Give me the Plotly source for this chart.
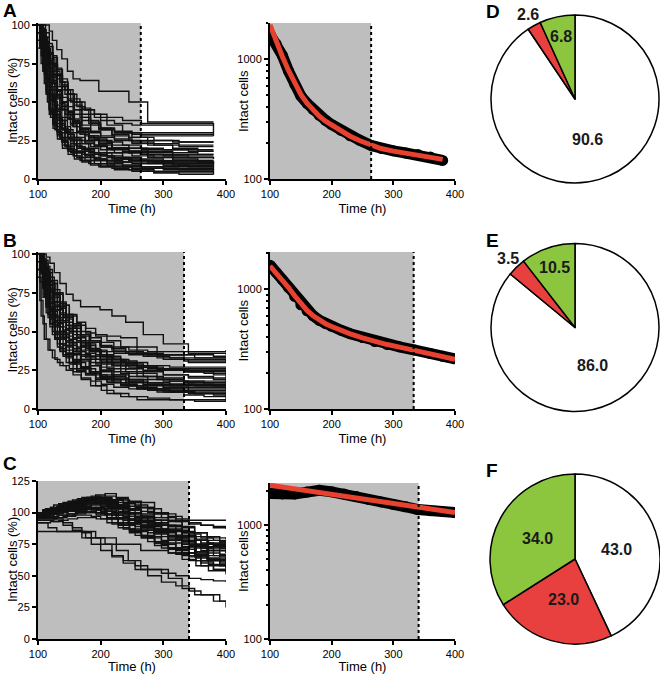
import math
import plotly.graph_objects as go

W, H = 660, 674

# ---------------- DATA ----------------
# Left panels: individual traces (% intact cells), step lines; three time grids per panel (lines use them in turn)
times_A = [
    [100, 105, 110, 115, 120, 127, 135, 143, 152, 162, 175, 190, 210, 235, 265, 300, 340, 380],
    [100, 103, 108, 113, 118, 124, 131, 139, 148, 158, 170, 184, 200, 222, 250, 285, 325, 380],
    [100, 107, 112, 118, 123, 130, 138, 147, 156, 167, 181, 197, 218, 245, 275, 315, 355, 380],
]
lines_A = [
    [100, 95, 85, 70, 58, 48, 40, 34, 30, 27, 24, 22, 20, 18, 16, 15, 14, 14],
    [100, 90, 75, 60, 45, 35, 28, 22, 18, 15, 12, 10, 9, 8, 7, 7, 6, 6],
    [100, 100, 95, 88, 80, 72, 65, 58, 52, 45, 38, 33, 28, 25, 22, 20, 18, 18],
    [100, 92, 80, 65, 52, 42, 35, 30, 27, 25, 23, 22, 20, 20, 19, 19, 18, 18],
    [95, 85, 70, 55, 42, 33, 26, 20, 16, 13, 11, 9, 8, 6, 5, 4, 4, 4],
    [100, 100, 100, 96, 90, 84, 78, 70, 65, 64, 64, 57, 57, 50, 37, 37, 37, 37],
    [100, 97, 90, 82, 75, 68, 60, 55, 50, 47, 45, 42, 40, 38, 36, 36, 36, 35],
    [100, 88, 72, 58, 46, 37, 30, 25, 21, 18, 16, 14, 12, 11, 10, 10, 9, 9],
    [100, 93, 84, 74, 66, 58, 50, 43, 37, 32, 28, 25, 22, 20, 18, 17, 16, 16],
    [90, 80, 68, 55, 44, 36, 30, 26, 23, 21, 19, 17, 15, 14, 13, 12, 12, 12],
    [100, 96, 88, 79, 70, 62, 55, 48, 42, 37, 33, 30, 27, 25, 23, 22, 21, 21],
    [100, 85, 68, 52, 40, 31, 24, 19, 15, 12, 10, 8, 7, 6, 5, 5, 5, 5],
    [100, 98, 92, 85, 78, 70, 63, 58, 55, 50, 45, 40, 35, 30, 28, 28, 28, 28],
    [100, 90, 78, 65, 54, 45, 38, 33, 29, 26, 23, 21, 19, 17, 15, 14, 14, 13],
    [100, 94, 86, 77, 67, 58, 50, 44, 38, 33, 28, 24, 20, 17, 14, 12, 11, 11],
    [85, 75, 62, 50, 40, 32, 26, 22, 19, 17, 15, 13, 12, 11, 10, 9, 9, 9],
    [100, 99, 95, 89, 82, 75, 68, 60, 52, 45, 40, 36, 33, 31, 30, 30, 30, 30],
    [100, 91, 80, 70, 60, 52, 45, 39, 34, 30, 26, 23, 20, 18, 16, 15, 15, 15],
    [100, 87, 70, 55, 43, 34, 27, 21, 17, 14, 12, 10, 9, 8, 7, 6, 6, 6],
    [100, 95, 88, 80, 72, 64, 57, 50, 44, 39, 35, 31, 28, 26, 24, 23, 22, 22],
    [100, 92, 82, 72, 62, 54, 47, 41, 36, 31, 27, 23, 20, 18, 17, 16, 16, 16],
    [95, 88, 78, 66, 55, 46, 38, 31, 25, 20, 16, 13, 11, 9, 8, 7, 7, 7],
    [100, 97, 91, 84, 76, 68, 60, 53, 47, 42, 38, 35, 32, 30, 29, 29, 29, 29],
    [100, 93, 83, 72, 62, 53, 45, 39, 34, 29, 25, 22, 19, 17, 15, 13, 12, 12],
    [100, 89, 76, 63, 51, 41, 33, 27, 22, 18, 15, 12, 10, 9, 8, 8, 8, 8],
    [100, 100, 97, 92, 86, 79, 71, 63, 55, 48, 42, 37, 33, 30, 27, 25, 24, 24],
    [90, 82, 72, 62, 53, 45, 38, 32, 27, 23, 20, 17, 14, 12, 10, 9, 9, 9],
    [100, 94, 85, 74, 63, 54, 46, 40, 35, 31, 28, 26, 24, 22, 20, 19, 19, 19],
    [100, 86, 70, 56, 45, 36, 29, 24, 20, 17, 14, 12, 10, 8, 6, 4, 3, 3],
    [100, 96, 89, 81, 73, 65, 58, 51, 45, 40, 36, 32, 29, 27, 25, 24, 24, 24],
    [100, 91, 79, 66, 54, 44, 36, 30, 25, 21, 18, 16, 14, 13, 12, 11, 11, 10],
    [100, 98, 94, 88, 81, 74, 67, 61, 55, 50, 46, 42, 38, 36, 35, 35, 35, 28],
    [100, 88, 74, 60, 48, 39, 32, 27, 23, 20, 17, 15, 13, 12, 11, 10, 10, 10],
    [100, 95, 87, 77, 67, 58, 49, 42, 36, 30, 25, 21, 17, 14, 11, 9, 8, 8],
    [100, 90, 80, 70, 60, 50, 40, 32, 26, 22, 19, 17, 15, 13, 12, 11, 11, 3],
]

times_B = [
    [100, 105, 110, 116, 123, 131, 140, 150, 162, 176, 192, 210, 232, 258, 290, 333, 365, 400],
    [100, 103, 108, 113, 119, 127, 135, 145, 156, 169, 184, 201, 221, 245, 275, 310, 350, 400],
    [100, 107, 113, 119, 126, 135, 145, 156, 168, 182, 199, 218, 240, 268, 300, 340, 380, 400],
]
lines_B = [
    [100, 95, 88, 80, 72, 64, 57, 50, 44, 39, 35, 32, 29, 27, 25, 24, 23, 23],
    [100, 90, 78, 66, 55, 46, 39, 34, 30, 27, 24, 22, 20, 18, 17, 16, 15, 15],
    [100, 100, 98, 94, 88, 81, 74, 70, 66, 66, 64, 60, 56, 48, 42, 36, 36, 35],
    [100, 92, 82, 71, 61, 53, 46, 41, 37, 34, 32, 30, 28, 27, 26, 25, 25, 25],
    [90, 70, 55, 45, 38, 32, 28, 25, 22, 20, 18, 16, 14, 13, 12, 11, 10, 10],
    [100, 97, 92, 85, 77, 69, 61, 54, 48, 44, 41, 39, 37, 36, 35, 35, 34, 34],
    [100, 88, 74, 61, 50, 42, 35, 30, 26, 23, 20, 18, 16, 14, 13, 12, 12, 12],
    [100, 94, 86, 77, 68, 60, 53, 47, 43, 40, 38, 37, 36, 36, 35, 35, 33, 33],
    [100, 91, 80, 69, 59, 50, 43, 37, 32, 28, 24, 21, 18, 16, 14, 13, 13, 13],
    [85, 60, 45, 38, 33, 30, 28, 26, 24, 22, 15, 10, 8, 6, 6, 6, 6, 6],
    [100, 96, 89, 81, 72, 64, 57, 51, 46, 42, 38, 35, 32, 30, 28, 27, 27, 27],
    [100, 89, 76, 64, 54, 46, 40, 35, 31, 28, 25, 22, 19, 17, 15, 14, 14, 14],
    [100, 100, 96, 90, 83, 75, 67, 60, 54, 49, 47, 47, 46, 40, 35, 32, 32, 31],
    [100, 93, 84, 74, 64, 56, 49, 43, 38, 34, 30, 27, 24, 21, 19, 18, 18, 17],
    [95, 85, 72, 60, 50, 42, 36, 31, 27, 24, 21, 19, 17, 15, 13, 12, 12, 12],
    [100, 97, 91, 83, 75, 67, 60, 53, 47, 42, 38, 34, 31, 28, 26, 24, 24, 24],
    [100, 90, 79, 68, 58, 49, 42, 36, 31, 27, 23, 20, 17, 15, 13, 11, 10, 10],
    [100, 95, 87, 78, 69, 61, 54, 48, 43, 39, 35, 32, 29, 27, 25, 24, 22, 22],
    [100, 87, 72, 59, 48, 40, 34, 29, 25, 22, 19, 17, 15, 13, 12, 11, 11, 5],
    [100, 94, 85, 75, 65, 57, 50, 44, 39, 35, 32, 30, 28, 27, 26, 26, 26, 26],
    [100, 92, 83, 73, 64, 56, 49, 43, 38, 34, 31, 28, 26, 24, 22, 21, 20, 20],
    [100, 98, 94, 88, 81, 74, 67, 61, 56, 52, 48, 44, 40, 36, 33, 31, 31, 30],
    [100, 91, 81, 71, 62, 54, 47, 41, 36, 32, 28, 25, 22, 19, 17, 16, 16, 16],
    [100, 88, 75, 63, 53, 45, 38, 32, 27, 23, 20, 17, 15, 13, 11, 10, 9, 9],
    [100, 96, 90, 82, 74, 66, 59, 52, 46, 41, 37, 33, 30, 28, 26, 25, 25, 18],
    [90, 82, 72, 62, 53, 45, 38, 33, 29, 26, 23, 21, 19, 17, 16, 15, 15, 15],
    [100, 93, 85, 76, 67, 59, 52, 46, 41, 37, 34, 31, 28, 25, 22, 20, 19, 19],
    [100, 89, 77, 66, 56, 48, 41, 35, 30, 26, 22, 19, 16, 13, 11, 9, 8, 8],
    [100, 97, 93, 87, 80, 73, 66, 59, 53, 48, 44, 40, 37, 35, 34, 33, 33, 33],
    [100, 94, 86, 77, 69, 62, 56, 50, 44, 38, 33, 28, 24, 21, 18, 16, 15, 15],
    [100, 91, 82, 72, 63, 55, 48, 42, 37, 33, 29, 26, 23, 21, 19, 17, 16, 16],
    [100, 90, 78, 66, 55, 45, 37, 30, 24, 19, 15, 12, 10, 8, 7, 6, 5, 5],
    [100, 95, 88, 80, 72, 65, 58, 52, 47, 43, 40, 38, 36, 34, 32, 30, 30, 30],
    [100, 93, 85, 75, 66, 58, 51, 45, 40, 36, 32, 29, 26, 23, 20, 18, 17, 12],
    [100, 99, 95, 89, 82, 75, 68, 61, 55, 50, 46, 43, 40, 38, 37, 37, 37, 38],
]

times_C = [
    [100, 112, 125, 140, 155, 170, 185, 200, 218, 236, 255, 275, 297, 320, 341, 360, 380, 400],
    [100, 108, 120, 133, 148, 163, 178, 193, 210, 228, 246, 265, 286, 308, 330, 352, 372, 400],
    [100, 116, 130, 146, 160, 176, 192, 207, 225, 244, 264, 285, 308, 330, 350, 370, 390, 400],
]
lines_C = [
    [100, 101, 103, 106, 108, 110, 112, 110, 106, 102, 97, 92, 86, 80, 75, 72, 70, 68],
    [98, 99, 100, 102, 104, 105, 103, 100, 96, 92, 87, 82, 77, 72, 68, 65, 63, 62],
    [100, 102, 105, 107, 109, 111, 113, 115, 112, 108, 104, 99, 93, 88, 84, 81, 80, 79],
    [96, 97, 99, 101, 102, 103, 102, 99, 95, 90, 85, 80, 75, 70, 65, 61, 58, 56],
    [100, 100, 101, 103, 106, 108, 110, 109, 107, 104, 100, 96, 91, 86, 81, 78, 76, 75],
    [95, 95, 96, 98, 100, 101, 100, 98, 95, 91, 87, 83, 78, 73, 68, 64, 61, 60],
    [100, 101, 102, 104, 107, 109, 111, 111, 110, 108, 106, 103, 99, 95, 92, 90, 88, 87],
    [92, 92, 93, 94, 95, 96, 96, 95, 92, 88, 84, 80, 76, 72, 68, 64, 62, 61],
    [100, 99, 98, 99, 101, 103, 104, 102, 99, 95, 90, 85, 79, 73, 67, 62, 58, 55],
    [97, 98, 100, 103, 105, 107, 108, 107, 104, 100, 96, 91, 86, 82, 78, 75, 73, 72],
    [100, 102, 104, 106, 108, 110, 112, 111, 109, 106, 102, 97, 92, 87, 82, 78, 75, 74],
    [85, 85, 85, 85, 85, 80, 80, 75, 75, 75, 70, 70, 68, 68, 65, 63, 60, 58],
    [94, 94, 93, 90, 86, 80, 75, 70, 66, 62, 58, 55, 52, 50, 48, 47, 46, 45],
    [100, 101, 103, 105, 107, 109, 110, 109, 106, 103, 99, 95, 90, 85, 80, 75, 72, 70],
    [92, 88, 85, 85, 85, 85, 80, 80, 70, 62, 55, 55, 48, 40, 35, 35, 30, 30],
    [98, 97, 95, 92, 88, 84, 80, 75, 65, 60, 55, 50, 45, 42, 38, 35, 30, 25],
    [100, 102, 103, 104, 106, 108, 109, 108, 105, 101, 97, 92, 87, 82, 77, 73, 70, 68],
    [99, 100, 100, 101, 102, 103, 103, 101, 98, 94, 90, 86, 82, 78, 74, 70, 67, 66],
    [100, 103, 106, 108, 110, 112, 113, 112, 110, 107, 104, 100, 96, 93, 91, 90, 89, 89],
    [96, 96, 97, 98, 99, 100, 100, 98, 95, 91, 86, 81, 76, 71, 66, 62, 59, 57],
    [100, 101, 102, 104, 106, 108, 109, 108, 106, 103, 99, 94, 89, 84, 79, 75, 72, 71],
    [100, 100, 100, 102, 104, 105, 106, 105, 103, 100, 97, 94, 90, 86, 83, 80, 78, 77],
    [97, 98, 99, 101, 103, 104, 104, 102, 99, 95, 91, 86, 81, 76, 71, 66, 62, 60],
    [100, 101, 103, 105, 108, 110, 111, 110, 108, 105, 101, 96, 90, 84, 78, 73, 70, 68],
    [100, 100, 101, 101, 102, 103, 103, 101, 98, 94, 89, 84, 78, 72, 66, 60, 55, 53],
    [98, 99, 101, 103, 105, 107, 108, 107, 104, 100, 95, 90, 84, 78, 73, 69, 66, 65],
    [100, 102, 104, 106, 109, 111, 114, 113, 111, 108, 104, 99, 94, 89, 84, 80, 77, 76],
    [96, 96, 96, 97, 98, 98, 97, 95, 91, 87, 82, 77, 72, 67, 62, 58, 55, 53],
    [100, 101, 102, 104, 106, 108, 109, 110, 110, 110, 109, 108, 100, 97, 94, 94, 94, 94],
    [95, 95, 96, 97, 99, 100, 100, 99, 96, 92, 88, 84, 80, 76, 72, 68, 65, 63],
    [100, 101, 103, 104, 105, 106, 107, 106, 103, 99, 94, 89, 84, 79, 74, 70, 66, 64],
    [100, 99, 99, 100, 101, 102, 101, 99, 95, 90, 85, 80, 74, 68, 63, 58, 54, 51],
    [100, 101, 102, 104, 106, 107, 108, 107, 105, 102, 98, 94, 89, 85, 81, 78, 76, 75],
    [98, 99, 100, 102, 103, 104, 104, 103, 100, 97, 93, 89, 85, 81, 78, 76, 74, 73],
    [100, 102, 104, 107, 109, 111, 112, 111, 108, 104, 99, 93, 87, 81, 75, 69, 64, 60],
]

# Middle panels: total intact cells (black data) and fitted curve (red)
mid_times_A = [100, 110, 120, 130, 140, 150, 160, 170, 180, 190, 200, 215, 230, 245, 265, 280, 300, 320, 340, 360, 380]
mid_cells_A = [1620, 1350, 1080, 800, 620, 495, 430, 380, 340, 310, 285, 255, 230, 212, 190, 180, 172, 165, 160, 153, 143]
fit_cells_A = [1950, 1400, 1060, 810, 640, 510, 430, 375, 335, 305, 282, 252, 228, 210, 190, 180, 171, 164, 158, 152, 146]

mid_times_B = [100, 110, 120, 130, 140, 150, 160, 170, 180, 190, 200, 215, 230, 250, 270, 290, 310, 335, 360, 380, 400]
mid_cells_B = [1585, 1380, 1200, 1030, 870, 740, 660, 600, 550, 515, 490, 455, 425, 395, 365, 345, 330, 310, 290, 275, 262]
fit_cells_B = [1560, 1370, 1190, 1030, 880, 750, 665, 600, 550, 515, 488, 452, 423, 392, 365, 345, 328, 308, 289, 274, 260]

mid_times_C = [100, 120, 140, 160, 180, 200, 220, 240, 260, 280, 300, 320, 340, 360, 380, 400]
mid_cells_C = [1900, 1880, 1880, 1950, 2020, 1960, 1880, 1780, 1680, 1600, 1520, 1450, 1370, 1340, 1320, 1290]
fit_times_C = [100, 400]
fit_cells_C = [2240, 1290]

# Shaded windows (end times, marked by dotted lines)
window_end = {"A": 264, "B": 333, "C": 341}

# Pie charts: fractions (%) — white, red, green
pie_labels = ["white", "red", "green"]
pie_D = [90.6, 2.6, 6.8]
pie_E = [86.0, 3.5, 10.5]
pie_F = [43.0, 23.0, 34.0]

x_ticks = [100, 200, 300, 400]
pct_ticks_AB = [0, 25, 50, 75, 100]
pct_ticks_C = [0, 25, 50, 75, 100, 125]

# ---------------- STYLE / LAYOUT ----------------
FONT = "Liberation Sans, Arial, Helvetica, sans-serif"
GRAY = "#bebebe"
RED_FIT = "#e8412f"
PIE_COLORS = ["#ffffff", "#e8403f", "#8cc63e"]


def xd(a, b):
    return [a / W, b / W]


def yd(top, bottom):
    return [1 - bottom / H, 1 - top / H]


fig = go.Figure()

rows = [
    ("A", times_A, lines_A, [0, 101.3], pct_ticks_AB, 23, 179, mid_times_A, mid_cells_A, mid_times_A, fit_cells_A, [2, 3.305], 23, 11),
    ("B", times_B, lines_B, [0, 101.3], pct_ticks_AB, 252, 409, mid_times_B, mid_cells_B, mid_times_B, fit_cells_B, [2, 3.31], 252, 241),
    ("C", times_C, lines_C, [0, 125], pct_ticks_C, 481, 639, mid_times_C, mid_cells_C, fit_times_C, fit_cells_C, [2, 3.37], 483, 463),
]

axis_common = dict(
    showline=True, linecolor="black", linewidth=2, ticks="outside", ticklen=4,
    tickwidth=2, tickcolor="black", showgrid=False, zeroline=False, automargin=False,
    tickfont=dict(family=FONT, size=11, color="black"),
)
title_font = dict(family=FONT, size=13, color="black")

layout = dict(
    template="none",
    width=W, height=H, margin=dict(l=0, r=0, t=0, b=0, autoexpand=False),
    paper_bgcolor="white", plot_bgcolor="rgba(0,0,0,0)", showlegend=False,
    font=dict(family=FONT, color="black"),
)
shapes = []
annotations = []


def vtitle(text, xpx, top, bot):
    return dict(text=text, x=xpx / W, y=1 - (top + bot) / 2 / H, xref="paper", yref="paper",
                textangle=-90, showarrow=False, xanchor="center", yanchor="middle", font=title_font)


for i, (key, grids, lines, yr, yt, top, bot, mt, mc, ft, fc, lr, mtop, lety) in enumerate(rows):
    lx = "x%d" % (2 * i + 1) if i > 0 else "x"
    ly = "y%d" % (2 * i + 1) if i > 0 else "y"
    mx = "x%d" % (2 * i + 2)
    my = "y%d" % (2 * i + 2)
    lxn = "xaxis" + ("" if i == 0 else str(2 * i + 1))
    lyn = "yaxis" + ("" if i == 0 else str(2 * i + 1))
    mxn = "xaxis" + str(2 * i + 2)
    myn = "yaxis" + str(2 * i + 2)

    for j, vals in enumerate(lines):
        fig.add_trace(go.Scatter(x=grids[j % len(grids)], y=vals, mode="lines",
                                 line=dict(color="#111111", width=1.4, shape="hv"),
                                 xaxis=lx, yaxis=ly, hoverinfo="skip"))
    fig.add_trace(go.Scatter(x=mt, y=mc, mode="lines+markers", line=dict(color="black", width=11),
                             marker=dict(color="black", size=11), xaxis=mx, yaxis=my, hoverinfo="skip"))
    fig.add_trace(go.Scatter(x=ft, y=fc, mode="lines", line=dict(color=RED_FIT, width=5),
                             xaxis=mx, yaxis=my, hoverinfo="skip"))

    layout[lxn] = dict(axis_common, domain=xd(38, 226), range=[100, 400], tickvals=x_ticks, anchor=ly,
                       title=dict(text="Time (h)", font=title_font, standoff=5))
    layout[lyn] = dict(axis_common, domain=yd(top, bot), range=yr, tickvals=yt, anchor=lx)
    layout[mxn] = dict(axis_common, domain=xd(270, 455), range=[100, 400], tickvals=x_ticks, anchor=my,
                       title=dict(text="Time (h)", font=title_font, standoff=5))
    layout[myn] = dict(axis_common, domain=yd(mtop, bot), type="log", range=lr, tickvals=[100, 1000],
                       ticktext=["100", "1000"], anchor=mx,
                       minor=dict(tickvals=[200, 300, 400, 500, 600, 700, 800, 900, 2000],
                                  ticks="outside", ticklen=2, tickwidth=2, tickcolor="black"))

    annotations.append(vtitle("Intact cells (%)", 12, top, bot))
    annotations.append(vtitle("Intact cells", 243, mtop, bot))

    for xr, yr_ in ((lx, ly), (mx, my)):
        shapes.append(dict(type="rect", xref=xr, yref=yr_ + " domain", x0=100, x1=window_end[key], y0=0, y1=1,
                           fillcolor=GRAY, line=dict(width=0), layer="below"))
        shapes.append(dict(type="line", xref=xr, yref=yr_ + " domain", x0=window_end[key], x1=window_end[key],
                           y0=0, y1=1, line=dict(color="black", width=2, dash="dot"), layer="above"))

    annotations.append(dict(text="<b>%s</b>" % key, x=1 / W, y=1 - lety / H, xref="paper", yref="paper",
                            xanchor="left", yanchor="middle", showarrow=False,
                            font=dict(family=FONT, size=19, color="black")))

# Pies
pies = [("D", pie_D, 575, 99, 84, 12), ("E", pie_E, 575, 327.5, 84, 240), ("F", pie_F, 575, 559, 85, 470)]
for key, vals, cx, cy, r, lety in pies:
    fig.add_trace(go.Pie(values=vals, labels=pie_labels, sort=False, direction="clockwise", rotation=0,
                         marker=dict(colors=PIE_COLORS, line=dict(color="black", width=1.5)),
                         textinfo="none", hoverinfo="skip", automargin=False,
                         domain=dict(x=[(cx - r) / W, (cx + r) / W], y=[1 - (cy + r) / H, 1 - (cy - r) / H])))
    total = sum(vals)
    cum = 0.0
    for v in vals:
        mid = (cum + v / 2) / total * 2 * math.pi
        cum += v
        f = 0.5 if v > 20 else (0.76 if v > 5 else 1.15)
        px = cx + f * r * math.sin(mid)
        py = cy - f * r * math.cos(mid)
        annotations.append(dict(text="<b>%.1f</b>" % v, x=px / W, y=1 - py / H, xref="paper", yref="paper",
                                showarrow=False, xanchor="center", yanchor="middle",
                                font=dict(family=FONT, size=16, color="#1a1a1a")))
    annotations.append(dict(text="<b>%s</b>" % key, x=484 / W, y=1 - lety / H, xref="paper",
                            yref="paper", xanchor="left", yanchor="middle", showarrow=False,
                            font=dict(family=FONT, size=19, color="black")))

layout["shapes"] = shapes
layout["annotations"] = annotations
fig.update_layout(**layout)
fig.write_html("out.html", config={"displayModeBar": False, "staticPlot": True},
               post_script="document.body.style.margin='0px';document.body.style.overflow='hidden';")
